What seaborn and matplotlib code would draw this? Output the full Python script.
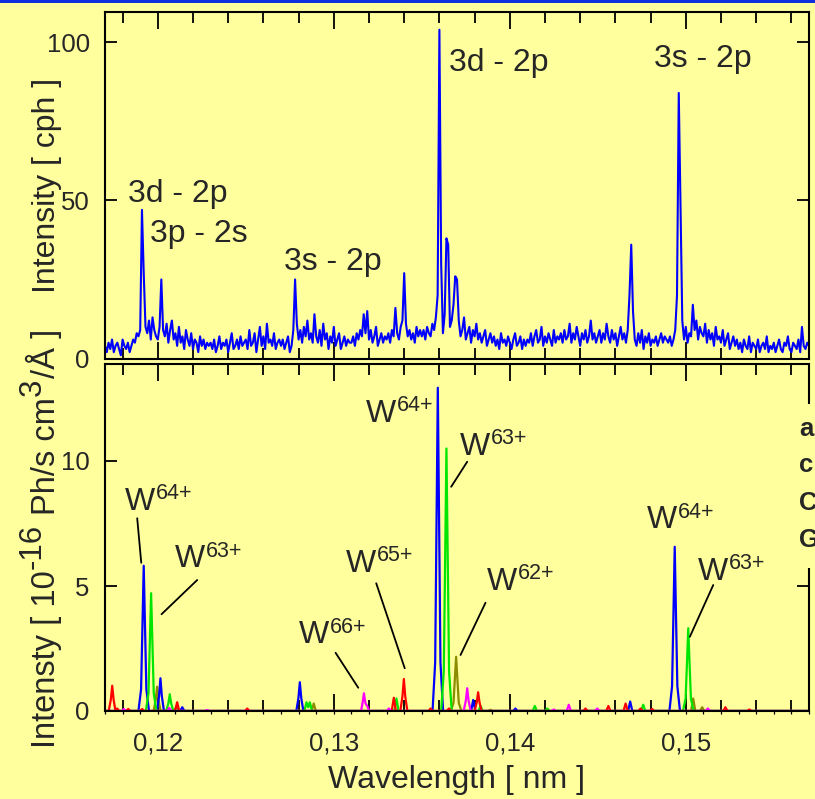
import numpy as np
import pandas as pd
import matplotlib
matplotlib.use("Agg")
import matplotlib.pyplot as plt
from matplotlib.patches import Rectangle
from matplotlib.ticker import MultipleLocator, FixedLocator
import seaborn as sns

PAPER = "#FFFF9E"

# ---------------------------------------------------------------------------
# Measured spectrum (counts per hour), one sample every 0.0001 nm from 0.1170 nm
# ---------------------------------------------------------------------------
measured_start_nm = 0.1170
measured_step_nm = 0.0001
measured_cph = [
    4, 2, 5, 3, 6, 2, 4, 5, 3, 1, 6, 4, 3, 5, 2, 4, 6, 5, 8, 7,
    9, 47, 27, 10, 8, 12, 6, 13, 9, 7, 6, 10, 25, 9, 7, 11, 5, 9, 12, 6,
    8, 4, 10, 5, 7, 3, 9, 6, 4, 8, 3, 6, 5, 2, 7, 4, 6, 3, 5, 4,
    5, 3, 6, 2, 4, 7, 3, 5, 4, 6, 2, 5, 8, 3, 4, 6, 3, 7, 4, 5,
    6, 3, 9, 4, 5, 8, 2, 6, 10, 4, 7, 3, 11, 5, 6, 4, 8, 3, 5, 6,
    4, 6, 3, 5, 7, 2, 4, 9, 25, 11, 6, 9, 5, 10, 7, 12, 6, 8, 5, 14,
    7, 5, 9, 4, 11, 6, 8, 3, 7, 5, 10, 4, 6, 8, 3, 5, 7, 4, 6, 5,
    5, 7, 4, 8, 6, 9, 7, 14, 8, 15, 6, 9, 5, 7, 10, 4, 6, 8, 5, 7,
    6, 8, 5, 9, 7, 16, 8, 6, 10, 12, 27, 11, 7, 9, 6, 8, 5, 10, 7, 9,
    7, 9, 6, 10, 8, 7, 11, 9, 13, 20, 104, 30, 8, 14, 38, 36, 10, 12, 17, 26,
    25, 12, 7, 9, 13, 6, 8, 10, 5, 9, 7, 11, 6, 8, 5, 7, 9, 4, 6, 8,
    5, 7, 4, 6, 3, 8, 5, 6, 4, 7, 5, 3, 6, 8, 4, 5, 7, 3, 6, 4,
    6, 5, 8, 4, 7, 9, 5, 6, 10, 4, 7, 5, 8, 6, 4, 9, 5, 7, 6, 8,
    5, 9, 6, 7, 11, 5, 8, 6, 10, 7, 4, 8, 6, 9, 5, 7, 12, 6, 8, 5,
    7, 9, 5, 8, 6, 11, 7, 5, 9, 6, 8, 4, 7, 10, 6, 8, 5, 9, 20, 36,
    15, 6, 4, 8, 5, 9, 3, 7, 5, 8, 4, 6, 5, 7, 4, 6, 8, 5, 7, 6,
    5, 7, 4, 6, 9, 20, 84, 49, 12, 6, 10, 5, 8, 7, 17, 9, 12, 6, 10, 8,
    7, 11, 5, 9, 6, 8, 4, 10, 6, 7, 5, 9, 4, 6, 8, 3, 5, 7, 4, 6,
    3, 5, 2, 6, 4, 3, 7, 2, 5, 4, 3, 6, 2, 4, 5, 3, 7, 2, 4, 3,
    5, 2, 4, 6, 3, 2, 5, 4, 7, 3, 2, 5, 4, 3, 6, 2, 10, 4, 3, 5, 4,
]
measured_nm = measured_start_nm + measured_step_nm * np.arange(len(measured_cph))

# ---------------------------------------------------------------------------
# Calculated line emission per ion stage: (wavelength nm, 1e-16 Ph/s cm^3/Å)
# ---------------------------------------------------------------------------
w64_profile = [
    (0.1170, 0.0),
    (0.11890, 0.0), (0.11905, 0.87), (0.11913, 3.49), (0.11920, 5.81), (0.11927, 3.49), (0.11935, 0.87), (0.11950, 0.0),
    (0.11995, 0.0), (0.12007, 0.59), (0.12015, 1.31), (0.12023, 0.59), (0.12035, 0.0),
    (0.12127, 0.0), (0.12139, 0.15), (0.12151, 0.0),
    (0.12787, 0.0), (0.12799, 0.52), (0.12807, 1.15), (0.12815, 0.52), (0.12827, 0.0),
    (0.13561, 0.0), (0.13576, 1.94), (0.13584, 7.76), (0.13591, 12.93), (0.13598, 7.76), (0.13606, 1.94), (0.13621, 0.0),
    (0.13780, 0.0), (0.13792, 0.44), (0.13804, 0.0),
    (0.14020, 0.0), (0.14032, 0.10), (0.14044, 0.0),
    (0.14672, 0.0), (0.14684, 0.38), (0.14696, 0.0),
    (0.14907, 0.0), (0.14922, 0.99), (0.14930, 3.94), (0.14937, 6.57), (0.14944, 3.94), (0.14952, 0.99), (0.14967, 0.0),
    (0.1570, 0.0),
]
w63_profile = [
    (0.1170, 0.0),
    (0.11932, 0.0), (0.11947, 0.71), (0.11955, 2.83), (0.11962, 4.71), (0.11969, 2.83), (0.11977, 0.71), (0.11992, 0.0),
    (0.12048, 0.0), (0.12060, 0.30), (0.12068, 0.67), (0.12076, 0.30), (0.12088, 0.0),
    (0.12833, 0.0), (0.12845, 0.35), (0.12855, 0.15), (0.12864, 0.35), (0.12876, 0.0),
    (0.13344, 0.0), (0.13356, 0.50), (0.13368, 0.0),
    (0.13610, 0.0), (0.13625, 1.58), (0.13633, 6.30), (0.13640, 10.50), (0.13647, 6.30), (0.13655, 1.58), (0.13670, 0.0),
    (0.13822, 0.0), (0.13834, 0.20), (0.13846, 0.0),
    (0.14130, 0.0), (0.14142, 0.20), (0.14154, 0.0),
    (0.14201, 0.0), (0.14213, 0.10), (0.14225, 0.0),
    (0.14746, 0.0), (0.14758, 0.25), (0.14770, 0.0),
    (0.14984, 0.0), (0.14999, 0.50), (0.15007, 1.99), (0.15014, 3.31), (0.15021, 1.99), (0.15029, 0.50), (0.15044, 0.0),
    (0.1570, 0.0),
]
w62_profile = [
    (0.1170, 0.0),
    (0.11976, 0.0), (0.11988, 0.44), (0.11996, 0.97), (0.12004, 0.44), (0.12016, 0.0),
    (0.12094, 0.0), (0.12106, 0.20), (0.12118, 0.0),
    (0.12874, 0.0), (0.12886, 0.30), (0.12898, 0.0),
    (0.13665, 0.0), (0.13680, 0.33), (0.13688, 1.30), (0.13695, 2.17), (0.13702, 1.30), (0.13710, 0.33), (0.13725, 0.0),
    (0.13878, 0.0), (0.13890, 0.05), (0.13902, 0.0),
    (0.15030, 0.0), (0.15042, 0.50), (0.15054, 0.0),
    (0.15081, 0.0), (0.15093, 0.15), (0.15105, 0.0),
    (0.1570, 0.0),
]
w65_profile = [
    (0.1170, 0.0),
    (0.11721, 0.0), (0.11733, 0.45), (0.11741, 1.01), (0.11749, 0.45), (0.11759, 0.03), (0.11769, 0.10), (0.11781, 0.0),
    (0.11820, 0.0), (0.11832, 0.08), (0.11844, 0.0),
    (0.11899, 0.0), (0.11911, 0.08), (0.11923, 0.0),
    (0.12098, 0.0), (0.12110, 0.35), (0.12122, 0.0),
    (0.12496, 0.0), (0.12508, 0.10), (0.12520, 0.0),
    (0.13329, 0.0), (0.13341, 0.53), (0.13353, 0.0),
    (0.13378, 0.0), (0.13390, 0.58), (0.13398, 1.28), (0.13406, 0.58), (0.13418, 0.0),
    (0.13538, 0.0), (0.13550, 0.10), (0.13562, 0.0),
    (0.13642, 0.0), (0.13654, 0.10), (0.13666, 0.0),
    (0.13800, 0.0), (0.13812, 0.34), (0.13820, 0.75), (0.13828, 0.34), (0.13840, 0.0),
    (0.14418, 0.0), (0.14430, 0.10), (0.14442, 0.0),
    (0.14548, 0.0), (0.14560, 0.20), (0.14572, 0.0),
    (0.14646, 0.0), (0.14658, 0.30), (0.14670, 0.0),
    (0.14731, 0.0), (0.14743, 0.10), (0.14755, 0.0),
    (0.14797, 0.0), (0.14809, 0.08), (0.14821, 0.0),
    (0.15213, 0.0), (0.15225, 0.15), (0.15237, 0.0),
    (0.15349, 0.0), (0.15361, 0.06), (0.15373, 0.0),
    (0.1570, 0.0),
]
w66_profile = [
    (0.1170, 0.0),
    (0.11795, 0.0), (0.11807, 0.08), (0.11819, 0.0),
    (0.12053, 0.0), (0.12065, 0.12), (0.12077, 0.0),
    (0.12269, 0.0), (0.12281, 0.04), (0.12293, 0.0),
    (0.13155, 0.0), (0.13164, 0.35), (0.13171, 0.71), (0.13180, 0.30), (0.13190, 0.20), (0.13202, 0.0),
    (0.13301, 0.0), (0.13313, 0.10), (0.13325, 0.0),
    (0.13738, 0.0), (0.13750, 0.41), (0.13758, 0.91), (0.13766, 0.41), (0.13778, 0.0),
    (0.14238, 0.0), (0.14250, 0.06), (0.14262, 0.0),
    (0.14323, 0.0), (0.14335, 0.25), (0.14347, 0.0),
    (0.14485, 0.0), (0.14497, 0.10), (0.14509, 0.0),
    (0.15113, 0.0), (0.15125, 0.10), (0.15137, 0.0),
    (0.1570, 0.0),
]

ion_order = ["W62+", "W64+", "W63+", "W65+", "W66+"]
ion_profiles = {"W62+": w62_profile, "W64+": w64_profile, "W63+": w63_profile,
                "W65+": w65_profile, "W66+": w66_profile}
ion_colors = {"W64+": "#0000FF", "W63+": "#00E600", "W62+": "#8C8C00",
              "W65+": "#FF0000", "W66+": "#FF00FF"}

# Axis ticks
xtick_pos = [0.12, 0.13, 0.14, 0.15]
xtick_labels = ["0,12", "0,13", "0,14", "0,15"]
top_yticks = [0, 50, 100]
bot_yticks = [0, 5, 10]

# Transition labels on the measured spectrum: (text, wavelength, cph)
transition_labels = [
    ("3d - 2p", 0.11832, 49.6),
    ("3p - 2s", 0.11953, 36.7),
    ("3s - 2p", 0.12716, 27.9),
    ("3d - 2p", 0.13653, 90.9),
    ("3s - 2p", 0.14818, 92.3),
]
# Ion labels on the calculation: (charge, wavelength, intensity, leader start, leader end)
ion_labels = [
    ("64+", 0.11811, 8.04, (0.11883, 7.71), (0.11906, 5.93)),
    ("63+", 0.12095, 5.75, (0.12224, 5.24), (0.12021, 3.87)),
    ("66+", 0.12801, 2.71, (0.13010, 2.33), (0.13139, 0.93)),
    ("65+", 0.13067, 5.57, (0.13241, 5.11), (0.13403, 1.71)),
    ("64+", 0.13180, 11.56, None, None),
    ("63+", 0.13716, 10.24, (0.13758, 9.97), (0.13667, 8.97)),
    ("62+", 0.13868, 4.84, (0.13862, 4.33), (0.13720, 2.24)),
    ("64+", 0.14781, 7.31, None, None),
    ("63+", 0.15070, 5.24, (0.15156, 5.04), (0.15023, 2.97)),
]

# Lower y-axis title, built from pieces: (text, size pt, rise px, gap before px)
lower_title_pieces = [
    ("Intensty [ 10", 23.5, 0, 0),
    ("-16", 22.5, 14, 1),
    ("Ph/s cm", 23.5, 0, 9),
    ("3", 22.5, 14, 1),
    ("/Å ]", 23.5, 0, 1),
]

# ---------------------------------------------------------------------------
sns.set_style("ticks", {"axes.facecolor": PAPER, "figure.facecolor": PAPER})
plt.rcParams["font.family"] = ["Liberation Sans", "DejaVu Sans"]

W, H = 815, 799
fig = plt.figure(figsize=(W / 100, H / 100), dpi=100)
fig.patch.set_facecolor(PAPER)


def frame(left, top, right, bottom):
    return [left / W, 1 - bottom / H, (right - left) / W, (bottom - top) / H]


ax_top = fig.add_axes(frame(105, 12, 809, 358.5))
ax_bot = fig.add_axes(frame(105, 363.5, 809, 711))

# Measured spectrum
sns.lineplot(x=measured_nm, y=measured_cph, ax=ax_top, color="#0000FF",
             linewidth=1.5, estimator=None, errorbar=None)

# Calculated spectra
rows = []
for ion in ion_order:
    for nm, val in ion_profiles[ion]:
        rows.append({"nm": nm, "intensity": val, "ion": ion})
calc = pd.DataFrame(rows)
sns.lineplot(data=calc, x="nm", y="intensity", hue="ion", hue_order=ion_order,
             palette=ion_colors, ax=ax_bot, linewidth=1.6, estimator=None,
             errorbar=None, legend=False)

label_size = 23
tick_size = 18.5

for ax in (ax_top, ax_bot):
    ax.set_facecolor(PAPER)
    ax.set_xlim(0.1170, 0.1570)
    ax.xaxis.set_major_locator(FixedLocator(xtick_pos))
    ax.xaxis.set_minor_locator(MultipleLocator(0.002))
    ax.tick_params(axis="x", which="major", direction="in", length=12.2, width=1.3,
                   top=True, bottom=True, pad=14.5, labelsize=tick_size, color="black")
    ax.tick_params(axis="x", which="minor", direction="in", length=7.9, width=1.3,
                   top=True, bottom=True, color="black")
    ax.tick_params(axis="y", which="major", direction="in", length=8.6, width=1.3,
                   left=True, right=True, pad=11, labelsize=tick_size, color="black")
    for sp in ax.spines.values():
        sp.set_visible(True)
        sp.set_linewidth(1.5)
        sp.set_color("black")

ax_top.set_ylim(0, 109.6)
ax_top.set_yticks(top_yticks)
ax_top.set_yticklabels([str(v) for v in top_yticks])
ax_top.tick_params(axis="x", labelbottom=False)
ax_top.set_xlabel("")
ax_top.set_ylabel("Intensity [ cph ]", fontsize=label_size)
ax_top.yaxis.set_label_coords(-0.0615, 0.5)

ax_bot.set_ylim(0, 13.9)
ax_bot.set_yticks(bot_yticks)
ax_bot.set_yticklabels([str(v) for v in bot_yticks])
ax_bot.set_xticklabels(xtick_labels)
ax_bot.set_xlabel("Wavelength [ nm ]", fontsize=label_size)
ax_bot.xaxis.set_label_coords(0.5, -0.154)
ax_bot.set_ylabel("")

# Fine outward ticks every 0.001 nm under the lower wavelength axis
fine = ax_bot.secondary_xaxis("bottom")
fine.set_xticks(np.round(np.arange(0.117, 0.1571, 0.001), 3))
fine.tick_params(direction="out", length=2.2, width=0.9, labelbottom=False, color="black")
fine.spines["bottom"].set_visible(False)

# Transition labels
for text, x, y in transition_labels:
    ax_top.text(x, y, text, fontsize=label_size, ha="left", va="baseline")

# Ion stage labels with leader lines
for charge, x, y, start, end in ion_labels:
    w_txt = ax_bot.text(x, y, "W", fontsize=label_size, ha="left", va="baseline")
    ax_bot.annotate(charge, xy=(1, 1), xycoords=w_txt, xytext=(0.6, 2.6),
                    textcoords="offset points", fontsize=15.5, ha="left", va="top")
    if start is not None:
        ax_bot.annotate("", xy=end, xytext=start,
                        arrowprops=dict(arrowstyle="-", color="black", lw=1.3,
                                        shrinkA=0, shrinkB=0))

# Lower y-axis title: rotated pieces stacked upward from the bottom end
fig.canvas.draw()
renderer = fig.canvas.get_renderer()
baseline_x = 55.0
cursor_y = 748.0
for text, size, rise, gap in lower_title_pieces:
    cursor_y -= gap
    t = fig.text((baseline_x - rise) / W, 1 - cursor_y / H, text, fontsize=size,
                 rotation=90, rotation_mode="anchor", ha="left", va="baseline")
    cursor_y -= t.get_window_extent(renderer).height

# Side legend panel (partly outside the figure)
fig.patches.append(Rectangle((790 / W, 1 - 568 / H), 30 / W, 164 / H,
                             transform=fig.transFigure, facecolor=PAPER,
                             edgecolor="none", zorder=5))
for letter, base_y in zip(["a", "c", "C", "G"], [436, 472, 510, 547]):
    fig.text(799 / W, 1 - base_y / H, letter, fontsize=18.5, fontweight="bold",
             ha="left", va="baseline", zorder=6)

# Blue rule along the top edge
fig.patches.append(Rectangle((0, 1 - 2.5 / H), 1, 2.5 / H, transform=fig.transFigure,
                             facecolor="#1030E0", edgecolor="none", zorder=6))

fig.savefig("out.png", dpi=100, facecolor=PAPER)
